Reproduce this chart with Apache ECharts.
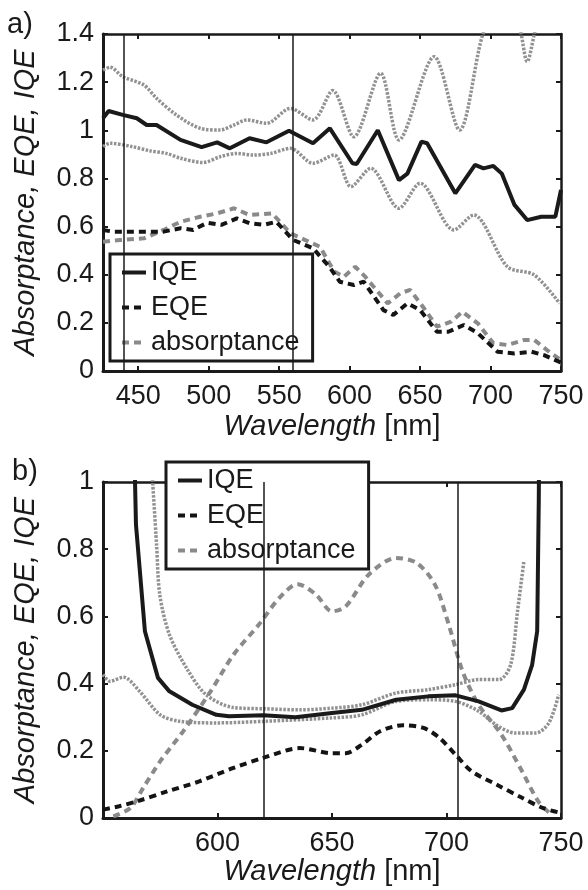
<!DOCTYPE html>
<html>
<head>
<meta charset="utf-8">
<script src="https://cdn.jsdelivr.net/npm/echarts@6/dist/echarts.min.js"></script>
<style>html,body{margin:0;padding:0;background:#fff}#chart{width:588px;height:890px}</style>
</head>
<body>
<div id="chart"></div>
<script>
// panel a) wavelength [nm], value
const aIqe = [[425,1.05],[429,1.08],[439,1.064],[449,1.05],[456,1.022],[463,1.022],[480,0.96],[495,0.93],[506,0.95],[515,0.925],[529,0.967],[541,0.95],[557,0.998],[574,0.946],[586,1.008],[602,0.863],[605,0.86],[620,1.0],[635,0.793],[641,0.82],[651,0.953],[655,0.946],[675,0.738],[689,0.856],[695,0.842],[702,0.852],[708,0.82],[717,0.69],[726,0.627],[736,0.641],[746,0.641],[750,0.752]]
const aIqeUp = [[425,1.25],[430,1.262],[439,1.223],[454,1.188],[463,1.133],[477,1.064],[494,1.008],[508,1.001],[518,1.022],[527,1.043],[541,1.029],[558,1.091],[574,1.043],[588,1.165],[603,0.973],[622,1.237],[635,0.96],[660,1.306],[678,1.001],[694,1.389],[702,1.48],[712,1.5],[720,1.44],[726,1.285],[732,1.42],[740,1.55],[750,1.6]]
const aIqeLo = [[425,0.932],[430,0.946],[446,0.932],[458,0.915],[470,0.904],[480,0.884],[496,0.866],[508,0.89],[520,0.904],[532,0.897],[544,0.904],[558,0.925],[574,0.863],[589,0.897],[601,0.766],[615,0.842],[635,0.676],[650,0.78],[674,0.586],[688,0.648],[712,0.433],[731,0.399],[749,0.281]]
const aEqe = [[425,0.586],[432,0.579],[446,0.579],[468,0.579],[480,0.593],[489,0.586],[499,0.616],[509,0.607],[520,0.634],[529,0.614],[539,0.607],[548,0.62],[560,0.544],[574,0.51],[586,0.43],[593,0.371],[603,0.357],[610,0.371],[624,0.253],[631,0.233],[641,0.281],[650,0.253],[662,0.163],[670,0.163],[681,0.191],[691,0.157],[705,0.08],[717,0.073],[729,0.08],[738,0.066],[750,0.035]]
const aAbs = [[425,0.537],[437,0.544],[454,0.551],[468,0.586],[480,0.62],[494,0.641],[506,0.655],[518,0.676],[529,0.648],[545,0.655],[558,0.572],[570,0.54],[579,0.516],[589,0.413],[596,0.392],[604,0.433],[611,0.392],[627,0.281],[636,0.323],[643,0.337],[652,0.267],[662,0.184],[672,0.205],[680,0.246],[691,0.198],[702,0.115],[712,0.108],[724,0.129],[731,0.129],[740,0.087],[750,0.045]]
const aMarks = [440, 560]

// panel b)
const bIqe = [[563.5,1.15],[564.4,0.873],[568.3,0.556],[574,0.417],[579,0.377],[589,0.337],[599.5,0.307],[605,0.303],[620,0.306],[634,0.3],[650,0.3125],[663,0.322],[678,0.352],[692,0.362],[704,0.365],[714,0.347],[724,0.32],[728.7,0.327],[733.8,0.382],[737.4,0.456],[739.6,0.556],[740.3,0.95],[740.5,1.15]]
const bIqeUp = [[571.5,1.02],[573.4,0.813],[574.8,0.664],[579,0.546],[586.5,0.446],[595,0.367],[606.8,0.329],[621,0.325],[636,0.322],[650,0.327],[663,0.337],[678,0.372],[692,0.382],[704,0.397],[714,0.412],[723,0.412],[728,0.456],[731,0.615],[733.8,0.764]]
const bIqeLo = [[550,0.427],[553,0.407],[559,0.419],[566,0.377],[575,0.307],[583.5,0.288],[599.5,0.283],[621,0.288],[650,0.298],[663,0.307],[678,0.347],[692,0.352],[704,0.347],[714,0.318],[721.5,0.278],[730,0.253],[739,0.253],[744.7,0.283],[749,0.367]]
const bEqe = [[550,0.025],[557,0.035],[565,0.05],[578,0.079],[592,0.109],[607,0.149],[620,0.179],[636,0.208],[650,0.193],[656,0.193],[663,0.218],[671,0.258],[681,0.276],[690,0.268],[697,0.238],[704,0.188],[711,0.139],[722,0.099],[733,0.06],[742,0.03],[750,0.015]]
const bAbs = [[554.5,0.005],[562,0.03],[567.5,0.089],[575,0.169],[585,0.258],[597,0.377],[607,0.486],[618,0.575],[627,0.655],[635,0.696],[643,0.665],[650,0.615],[656,0.63],[666,0.724],[678,0.774],[687,0.759],[695,0.694],[701,0.575],[707,0.437],[714,0.337],[724,0.248],[733,0.139],[740,0.05],[745,0.015]]
const bMarks = [620, 705]

const names = ['IQE', 'EQE', 'absorptance']
const FONT = "'Liberation Sans', Arial, sans-serif"
const INK = '#1a1a1a'

const chart = echarts.init(document.getElementById('chart'), null, { renderer: 'canvas' })

function xAxes(gi, min, max, gap) {
  const base = { type: 'value', gridIndex: gi, min, max, splitNumber: 5, splitLine: { show: false },
    axisTick: { show: true, inside: true, length: 5, lineStyle: { color: INK, width: 2 } } }
  return [
    Object.assign({}, base, { position: 'bottom',
      axisLine: { show: true, onZero: false, lineStyle: { color: INK, width: 3 } },
      axisLabel: { fontSize: 27, fontFamily: FONT, color: INK, margin: 12, showMinLabel: false,
        formatter: v => (v % 50 === 0 ? v : '') },
      name: '{i|Wavelength} [nm]', nameLocation: 'middle', nameGap: gap,
      nameTextStyle: { fontSize: 29, fontFamily: FONT, color: INK, rich: { i: { fontSize: 29, fontFamily: FONT, fontStyle: 'italic', color: INK } } } }),
    Object.assign({}, base, { position: 'top',
      axisLine: { show: true, onZero: false, lineStyle: { color: INK, width: 2.5 } },
      axisLabel: { show: false } })
  ]
}

function yAxes(gi, max) {
  const base = { type: 'value', gridIndex: gi, min: 0, max, interval: 0.2, splitLine: { show: false },
    axisTick: { show: true, inside: true, length: 5, lineStyle: { color: INK, width: 2 } } }
  return [
    Object.assign({}, base, { position: 'left',
      axisLine: { show: true, onZero: false, lineStyle: { color: INK, width: 3 } },
      axisLabel: { fontSize: 27, fontFamily: FONT, color: INK, margin: 9 },
      name: 'Absorptance, EQE, IQE', nameLocation: 'middle', nameGap: 63,
      nameTextStyle: { fontSize: 29, fontFamily: FONT, fontStyle: 'italic', color: INK } }),
    Object.assign({}, base, { position: 'right',
      axisLine: { show: true, onZero: false, lineStyle: { color: INK, width: 2.5 } },
      axisLabel: { show: false } })
  ]
}

function line(name, data, ax, color, type, width, smooth, marks) {
  const s = { name, type: 'line', data, xAxisIndex: ax, yAxisIndex: ax, symbol: 'none', smooth,
    lineStyle: { color, type, width, cap: 'butt' }, itemStyle: { color }, clip: true, silent: true }
  if (marks) {
    s.markLine = { silent: true, symbol: ['none', 'none'], label: { show: false },
      lineStyle: { color: INK, type: 'solid', width: 1.5 }, data: marks.map(m => ({ xAxis: m })) }
  }
  return s
}

const dot = [2.5, 1.5], dash = [7, 5]

function legend(left, top) {
  return { left, top, orient: 'vertical', data: names, selectedMode: false,
    backgroundColor: '#fff', borderColor: INK, borderWidth: 3, borderRadius: 0,
    padding: [5, 13, 5, 10], itemGap: 8, itemWidth: 24, itemHeight: 14, itemTextGap: 8,
    itemStyle: { opacity: 0 }, lineStyle: { width: 4 },
    textStyle: { fontSize: 27, fontFamily: FONT, color: INK, lineHeight: 27 } }
}

chart.setOption({
  animation: false,
  title: [
    { text: 'a)', left: 2, top: 5, padding: 5, textStyle: { fontSize: 29, fontWeight: 'normal', fontFamily: FONT, color: INK } },
    { text: 'b)', left: 7, top: 452, padding: 5, textStyle: { fontSize: 29, fontWeight: 'normal', fontFamily: FONT, color: INK } }
  ],
  grid: [
    { left: 103, top: 34, width: 458, height: 337 },
    { left: 103, top: 482, width: 458, height: 336 }
  ],
  xAxis: [...xAxes(0, 425, 750, 41), ...xAxes(1, 550, 750, 39)],
  yAxis: [...yAxes(0, 1.4), ...yAxes(1, 1)],
  legend: [legend(110, 254), legend(166, 462)],
  series: [
    line('a-up', aIqeUp, 0, '#919191', dot, 3.5, 0.3),
    line('a-lo', aIqeLo, 0, '#919191', dot, 3.5, 0.3),
    line('absorptance', aAbs, 0, '#8a8a8a', dash, 4, false),
    line('EQE', aEqe, 0, '#141414', dash, 4, false),
    line('IQE', aIqe, 0, INK, 'solid', 4, false, aMarks),
    line('b-up', bIqeUp, 2, '#919191', dot, 3.5, 0.3),
    line('b-lo', bIqeLo, 2, '#919191', dot, 3.5, 0.3),
    line('absorptance', bAbs, 2, '#8a8a8a', dash, 4, 0.3),
    line('EQE', bEqe, 2, '#141414', dash, 4, 0.3),
    line('IQE', bIqe, 2, INK, 'solid', 4, false, bMarks)
  ]
})
</script>
</body>
</html>
